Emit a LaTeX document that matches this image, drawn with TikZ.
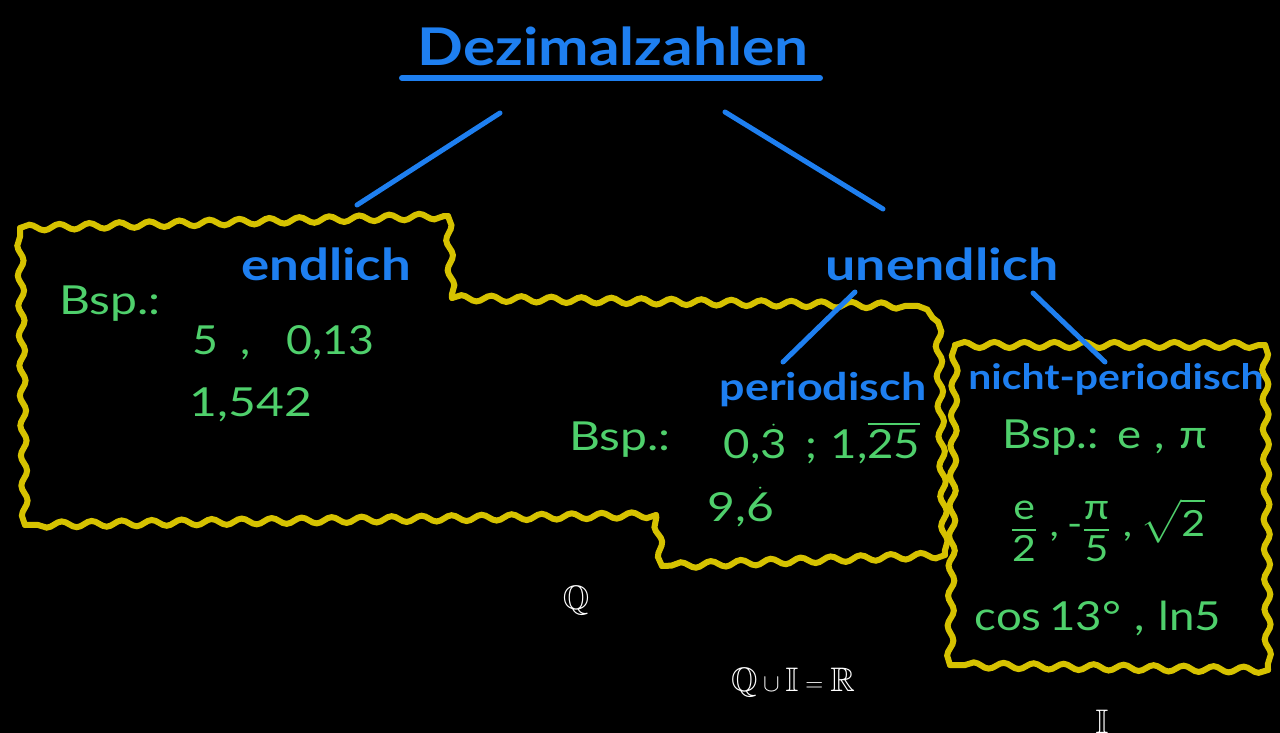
\documentclass[tikz,border=0pt]{standalone}
\usepackage{amsmath,amssymb}
\usepackage{fontspec}
\setmainfont{Lato}
\usetikzlibrary{decorations.pathmorphing}
\definecolor{hblue}{HTML}{1E7FF0}
\definecolor{hgreen}{HTML}{4FD06C}
\definecolor{hyellow}{HTML}{D6C200}
\tikzset{
  bline/.style={draw=hblue,line width=5pt,line cap=round},
  wavy/.style={draw=hyellow,line width=6pt,line cap=round,decorate,decoration={snake,amplitude=3pt,segment length=30pt}},
  btext/.style={text=hblue,inner sep=0pt,font=\fontsize{44}{44}\selectfont\bfseries},
  gtext/.style={text=hgreen,inner sep=0pt,font=\fontsize{40}{40}\selectfont,xscale=1.2},
  wtext/.style={text=white,inner sep=0pt,font=\fontsize{34}{34}\selectfont}
}
\begin{document}
\begin{tikzpicture}[x=1pt,y=-1pt]
\fill[black] (0,0) rectangle (1280,733);
\useasboundingbox (0,0) rectangle (1280,733);
% yellow region: rational numbers (endlich + periodisch)
\foreach \a/\b in {{(20,228)}/{(448,216)}, {(448,216)}/{(452,298)}, {(452,298)}/{(918,306)}, {(918,306)}/{(938,322)}, {(938,322)}/{(945,555)}, {(945,555)}/{(662,566)}, {(662,566)}/{(656,515)}, {(656,515)}/{(25,525)}, {(25,525)}/{(20,228)}}
  \draw[wavy] \a -- \b;
% yellow region: irrational numbers
\foreach \a/\b in {{(955,345)}/{(1265,345)}, {(1265,345)}/{(1268,670)}, {(1268,670)}/{(950,665)}, {(950,665)}/{(955,345)}}
  \draw[wavy] \a -- \b;
% title
\node[btext,font=\fontsize{52}{52}\selectfont\bfseries,xscale=1.16] (title) at (613,46) {Dezimalzahlen};
\coordinate (ulA) at (402,78);
\coordinate (ulB) at (820,78);
\draw[bline,line width=6pt] (ulA) -- (ulB);
% nodes
\node[btext,xscale=1.2] (endl) at (326,264) {endlich};
\node[btext,xscale=1.22] (unendl) at (942,264) {unendlich};
\node[btext,font=\fontsize{38}{38}\selectfont\bfseries,xscale=1.18] (per) at (823,390) {periodisch};
\node[btext,font=\fontsize{35}{35}\selectfont\bfseries,xscale=1.17] (nper) at (1116,379) {nicht-periodisch};
% connectors
\coordinate (t1) at (500,113);
\coordinate (t2) at (725,112);
\coordinate (e1) at (357,205);
\coordinate (u1) at (883,209);
\coordinate (u2) at (855,292);
\coordinate (u3) at (1033,293);
\coordinate (p1) at (783,362);
\coordinate (n1) at (1105,362);
\draw[bline] (t1) -- (e1);
\draw[bline] (t2) -- (u1);
\draw[bline] (u2) -- (p1);
\draw[bline] (u3) -- (n1);
% green examples
\node[gtext] (b1) at (110,304) {Bsp.:};
\node[gtext,xscale=0.93] (ex1) at (283,343) {5\hspace{0.5em},\hspace{0.8em}0,13};
\node[gtext] (ex2) at (251,405) {1,542};
\node[gtext] (b2) at (620,440) {Bsp.:};
\node[gtext,xscale=0.95] (ex3) at (822,447) {0,$\smash{\dot{\text{3}}}$\hspace{0.4em};\hspace{0.3em}1,$\smash{\overline{\text{25}}}$};
\node[gtext] (ex4) at (741,510) {9,$\smash{\dot{\text{6}}}$};
\node[gtext,xscale=0.95] (b3) at (1105,438) {Bsp.:\hspace{0.4em}e\hspace{0.3em},\hspace{0.3em}π};
\node[gtext,font=\fontsize{36}{36}\selectfont,xscale=0.95] (ex5) at (1108,530) {$\dfrac{\text{e}}{\text{2}}$\hspace{0.3em},\hspace{0.2em}$\text{-}\dfrac{\text{π}}{\text{5}}$\hspace{0.3em},\hspace{0.2em}$\sqrt{\text{2}}$};
\node[gtext,xscale=0.95] (ex6) at (1098,618) {cos\,13°\hspace{0.3em},\hspace{0.3em}ln5};
% white
\node[wtext] (Q) at (576,601) {$\mathbb{Q}$};
\node[wtext] (QIR) at (793,683) {$\mathbb{Q}\cup\mathbb{I}=\mathbb{R}$};
\node[wtext,anchor=north] (I) at (1102,710) {$\mathbb{I}$};
\end{tikzpicture}
\end{document}
